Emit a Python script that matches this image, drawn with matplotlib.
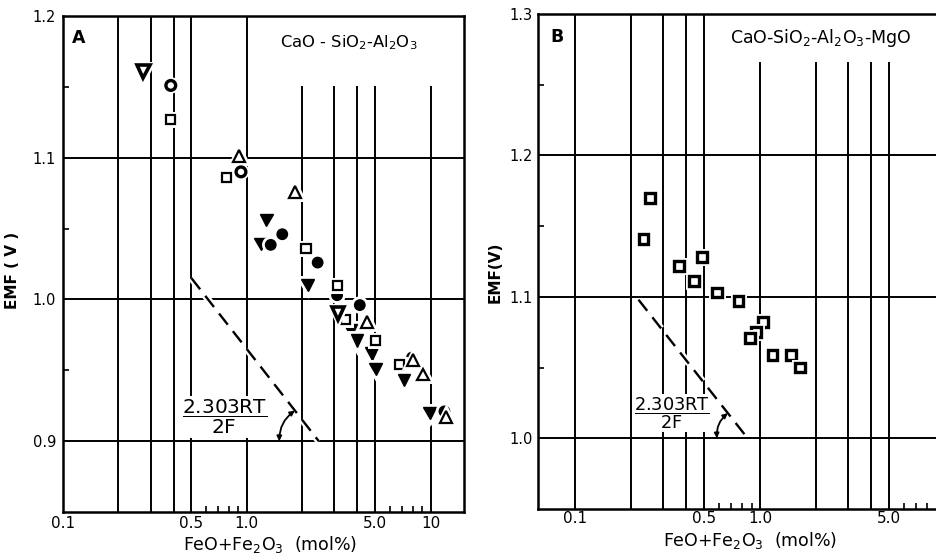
import numpy as np
import matplotlib
matplotlib.use("Agg")
import matplotlib.pyplot as plt
import matplotlib.patheffects as pe

# === DATA ===

# panel A : CaO-SiO2-Al2O3
a_vtri_x = [1.28, 1.19, 2.14, 3.67, 3.99, 4.78, 5.03, 7.19, 9.87]
a_vtri_y = [1.056, 1.039, 1.010, 0.978, 0.971, 0.962, 0.951, 0.943, 0.920]
a_circ_x = [1.35, 1.56, 2.43, 3.10, 4.12, 7.93, 11.9]
a_circ_y = [1.0385, 1.046, 1.026, 1.003, 0.996, 0.959, 0.921]
a_sq_x = [0.386, 0.78, 2.10, 3.10, 3.44, 5.03, 6.76]
a_sq_y = [1.127, 1.086, 1.036, 1.010, 0.986, 0.971, 0.954]
a_tri_x = [0.904, 1.83, 4.49, 7.99, 9.12, 12.1]
a_tri_y = [1.101, 1.076, 0.984, 0.957, 0.947, 0.917]
a_dot_x = [0.386, 0.93]
a_dot_y = [1.151, 1.090]
a_ovtri_x = [0.274, 3.13]
a_ovtri_y = [1.161, 0.990]

# panel B : CaO-SiO2-Al2O3-MgO
b_sq_x = [0.254, 0.234, 0.484, 0.366, 0.44, 0.583, 0.764, 1.04, 0.95, 0.883, 1.166, 1.47, 1.65]
b_sq_y = [1.170, 1.141, 1.128, 1.122, 1.111, 1.103, 1.097, 1.082, 1.075, 1.071, 1.059, 1.059, 1.050]

# theoretical slope 2.303RT/2F (V per decade) and where the dashed line starts
slope = 0.166
a_line_x0, a_line_y0, a_line_base = 0.5, 1.015, 0.9
b_line_x0, b_line_y0, b_line_base = 0.22, 1.098, 1.0

# === STYLE ===
plt.rcParams['font.family'] = ['DejaVu Sans']
plt.rcParams['mathtext.fontset'] = 'dejavusans'
K = 'black'
halo = [pe.withStroke(linewidth=5, foreground='white')]
grid_lw = 1.4


def setup_axes(ax, xlim, ylim, full_x, part_x, part_top, hgrid, yticks, yminor,
               xticks, xlabels, xminor, xpad, ypad):
    ax.set_xscale('log')
    ax.set_xlim(*xlim)
    ax.set_ylim(*ylim)
    for x in full_x:
        ax.axvline(x, color=K, lw=grid_lw, zorder=1)
    frac = (part_top - ylim[0]) / (ylim[1] - ylim[0])
    for x in part_x:
        ax.axvline(x, ymin=0, ymax=frac, color=K, lw=grid_lw, zorder=1)
    for y in hgrid:
        ax.axhline(y, color=K, lw=grid_lw, zorder=1)
    ax.set_xticks(xticks)
    ax.set_xticklabels(xlabels)
    ax.set_xticks(xminor, minor=True)
    ax.set_yticks(yticks)
    ax.set_yticklabels(['%.1f' % v for v in yticks])
    ax.set_yticks(yminor, minor=True)
    ax.tick_params(which='major', length=0)
    ax.tick_params(axis='x', which='major', pad=xpad, labelsize=11)
    ax.tick_params(axis='y', which='major', pad=ypad, labelsize=10.5)
    ax.tick_params(which='minor', direction='in', length=4, width=1.2,
                   labelbottom=False, labelleft=False)
    for s in ax.spines.values():
        s.set_linewidth(1.8)


def slope_line(ax, x0, y0, base, arc_a, arc_b, frac_xy, fsize):
    x_end = x0 * 10 ** ((y0 - base) / slope)
    ax.plot([x0, x_end], [y0, base], color=K, lw=1.7, ls=(0, (6, 3.5)),
            path_effects=halo, zorder=3)
    xa = x_end / 10 ** arc_a
    xb = x_end / 10 ** arc_b
    yb = base + slope * arc_b
    ax.annotate('', xy=(xb, yb), xytext=(xa, base),
                arrowprops=dict(arrowstyle='<|-|>', connectionstyle='arc3,rad=-0.25',
                                color=K, lw=1.3, mutation_scale=7, shrinkA=0, shrinkB=0),
                zorder=4)
    ax.text(frac_xy[0], frac_xy[1], r'$\dfrac{\mathrm{2.303RT}}{\mathrm{2F}}$',
            ha='center', va='center', fontsize=fsize, zorder=4,
            bbox=dict(facecolor='white', edgecolor='none', pad=1))


fig = plt.figure(figsize=(9.37, 5.57), dpi=100)

# === PANEL A ===
axA = fig.add_axes([0.0672, 0.0808, 0.428, 0.8905])
setup_axes(axA, (0.1, 15.2), (0.85, 1.2),
           [0.2, 0.3, 0.4, 0.5, 1.0], [2, 3, 4, 5, 10], 1.15,
           [0.9, 1.0, 1.1], [0.9, 1.0, 1.1, 1.2], [0.95, 1.05, 1.15],
           [0.1, 0.5, 1, 5, 10], ['0.1', '0.5', '1.0', '5.0', '10'],
           [0.6, 0.7, 0.8, 0.9, 6, 7, 8, 9], 3, 5)

mk = dict(ls='none', color=K, path_effects=halo, zorder=5)
axA.plot(a_vtri_x, a_vtri_y, marker='v', ms=9, mfc=K, mec=K, **mk)
axA.plot(a_circ_x, a_circ_y, marker='o', ms=7.5, mfc=K, mec=K, **mk)
axA.plot(a_sq_x, a_sq_y, marker='s', ms=6.5, mfc='white', mec=K, mew=1.6, **mk)
axA.plot(a_tri_x, a_tri_y, marker='^', ms=8.5, mfc='white', mec=K, mew=1.6, **mk)
axA.plot(a_dot_x, a_dot_y, marker='o', ms=7, mfc='white', mec=K, mew=2.4, **mk)
axA.plot(a_ovtri_x, a_ovtri_y, marker='v', ms=9, mfc='white', mec=K, mew=2.6, **mk)

slope_line(axA, a_line_x0, a_line_y0, a_line_base, 0.215, 0.13, (0.76, 0.917), 14.5)

axA.text(0.022, 0.956, 'A', transform=axA.transAxes, fontsize=12.5,
         fontweight='bold', va='center', ha='left')
axA.text(0.713, 0.946, r'CaO - SiO$_2$-Al$_2$O$_3$', transform=axA.transAxes,
         fontsize=11.8, ha='center', va='center')
axA.set_ylabel('EMF ( V )', fontsize=11, fontweight='bold')
axA.yaxis.set_label_coords(-0.107, 0.488)
axA.set_xlabel(r'FeO+Fe$_2$O$_3$  (mol%)', fontsize=12.5)
axA.xaxis.set_label_coords(0.516, -0.044)

# === PANEL B ===
axB = fig.add_axes([0.5742, 0.0862, 0.4258, 0.8887])
setup_axes(axB, (0.063, 9.05), (0.95, 1.3),
           [0.1, 0.2, 0.3, 0.4, 0.5], [1, 2, 3, 4, 5], 1.265,
           [1.0, 1.1, 1.2], [1.0, 1.1, 1.2, 1.3], [1.05, 1.15, 1.25],
           [0.1, 0.5, 1, 5], ['0.1', '0.5', '1.0', '5.0'],
           [0.6, 0.7, 0.8, 0.9, 6, 7, 8, 9], 1.5, 4)
axB.spines['right'].set_visible(False)

axB.plot(b_sq_x, b_sq_y, marker='s', ms=7, mfc='white', mec=K, mew=2.4, **mk)

slope_line(axB, b_line_x0, b_line_y0, b_line_base, 0.166, 0.107, (0.334, 1.018), 12.8)

axB.text(0.03, 0.953, 'B', transform=axB.transAxes, fontsize=12.5,
         fontweight='bold', va='center', ha='left')
axB.text(0.707, 0.951, r'CaO-SiO$_2$-Al$_2$O$_3$-MgO', transform=axB.transAxes,
         fontsize=12.5, ha='center', va='center')
axB.set_ylabel('EMF(V)', fontsize=11, fontweight='bold')
axB.yaxis.set_label_coords(-0.088, 0.479)
axB.set_xlabel(r'FeO+Fe$_2$O$_3$  (mol%)', fontsize=12.5)
axB.xaxis.set_label_coords(0.531, -0.042)

fig.savefig('out.png', dpi=100)
